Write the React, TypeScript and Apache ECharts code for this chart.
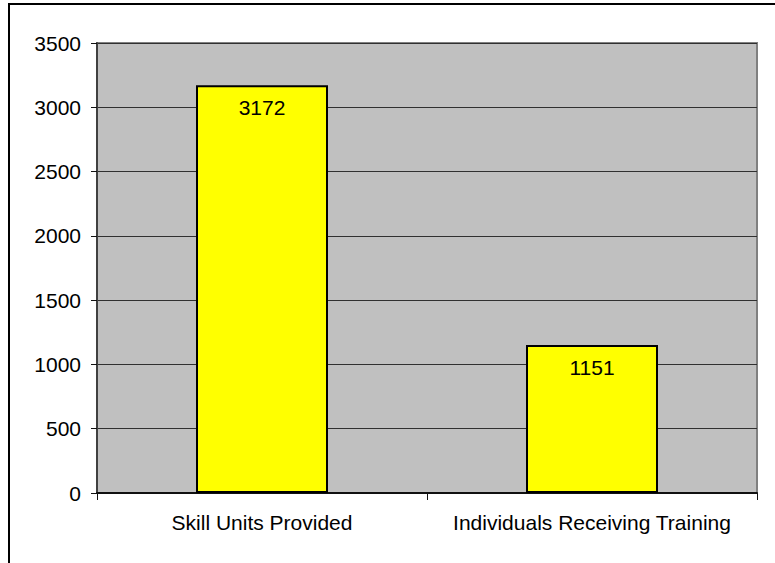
import React, { useEffect, useRef } from "react";
import * as echarts from "echarts";

const categories = ["Skill Units Provided", "Individuals Receiving Training"];
const values = [3172, 1151];
const yTicks = { min: 0, max: 3500, interval: 500 };

export default function App() {
  const ref = useRef<HTMLDivElement>(null);
  useEffect(() => {
    if (!ref.current) return;
    const chart = echarts.init(ref.current, null, { renderer: "svg" });
    const font = "'Liberation Sans', Arial, sans-serif";
    chart.setOption({
      animation: false,
      backgroundColor: "#ffffff",
      grid: {
        left: 97,
        top: 43,
        right: 18,
        bottom: 70,
        show: true,
        backgroundColor: "#C0C0C0",
        borderColor: "#808080",
        borderWidth: 2,
      },
      graphic: [
        {
          type: "rect",
          shape: { x: 9, y: 4, width: 820, height: 620 },
          style: { fill: "none", stroke: "#000", lineWidth: 2 },
          z: 100,
        },
      ],
      xAxis: {
        type: "category",
        data: categories,
        boundaryGap: true,
        axisLine: { show: true, lineStyle: { color: "#111", width: 2 } },
        axisTick: { show: true, alignWithLabel: false, length: 7, lineStyle: { color: "#111" } },
        axisLabel: { color: "#000", fontSize: 21, fontFamily: font, margin: 19, interval: 0 },
        splitLine: { show: false },
      },
      yAxis: {
        type: "value",
        min: yTicks.min,
        max: yTicks.max,
        interval: yTicks.interval,
        axisLine: { show: true, lineStyle: { color: "#404040", width: 2 } },
        axisTick: { show: true, length: 6, lineStyle: { color: "#111" } },
        axisLabel: {
          color: "#000",
          fontSize: 21,
          fontFamily: font,
          margin: 16,
          formatter: (v: number) => String(v),
        },
        splitLine: { show: true, lineStyle: { color: "#303030", width: 1 } },
      },
      series: [
        {
          type: "bar",
          data: values,
          barWidth: "40%",
          itemStyle: { color: "#FFFF00", borderColor: "#000", borderWidth: 2 },
          label: {
            show: true,
            position: "insideTop",
            distance: 12,
            color: "#000",
            fontSize: 21,
            fontFamily: font,
          },
        },
      ],
    });
    return () => chart.dispose();
  }, []);
  return (
    <div
      ref={ref}
      style={{ position: "absolute", left: 0, top: 0, width: 775, height: 563 }}
    />
  );
}
